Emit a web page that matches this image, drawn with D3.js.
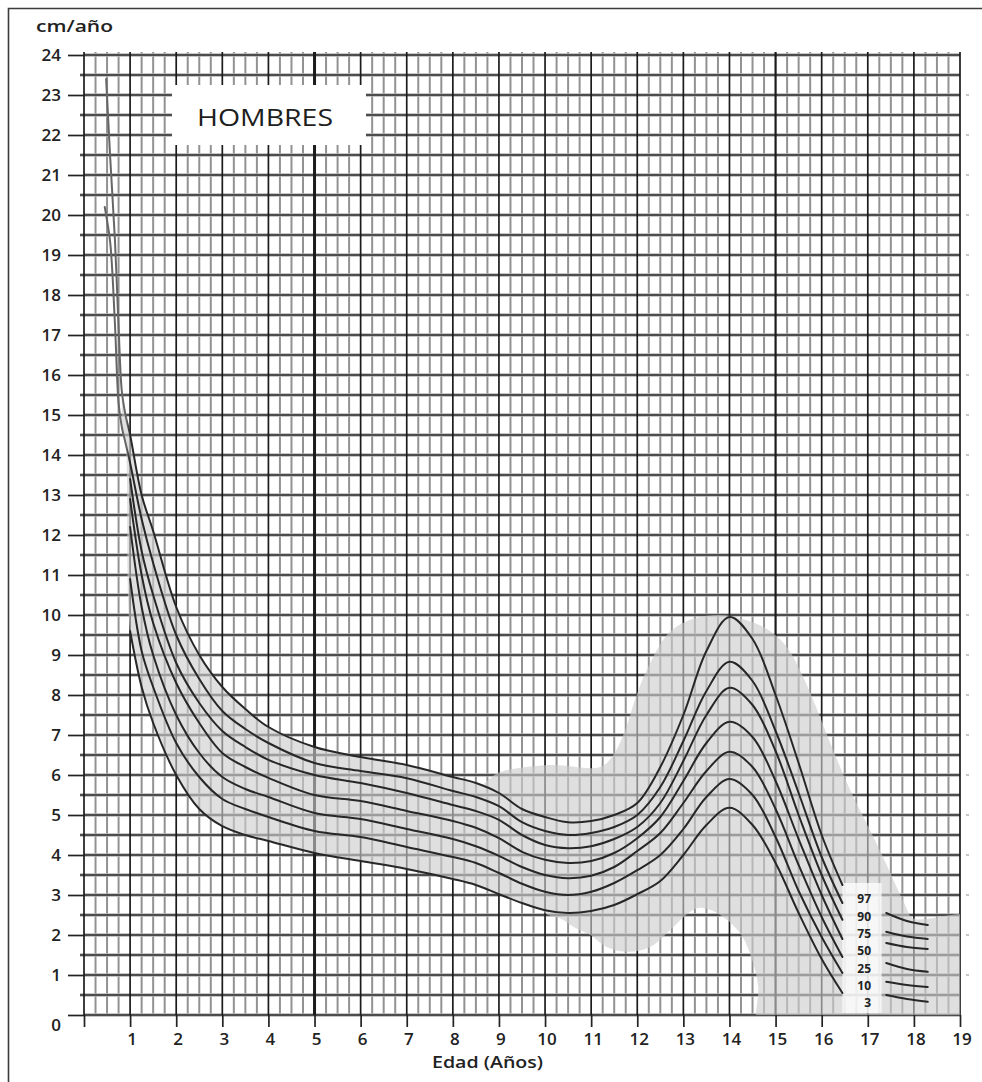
<!DOCTYPE html>
<html>
<head>
<meta charset="utf-8">
<script src="https://cdn.jsdelivr.net/npm/d3@7"></script>
<style>
html, body { margin: 0; padding: 0; background: #fff; }
svg { display: block; font-family: "Open Sans", "Noto Sans", sans-serif; }
</style>
</head>
<body>
<div id="chart"></div>
<script>
// ---- data ----
const percentiles = ["97", "90", "75", "50", "25", "10", "3"];

const ages = [1, 1.25, 1.5, 2, 2.5, 3, 3.5, 4, 5, 6, 7, 8, 8.5, 9, 9.5, 10, 10.5, 11, 11.5, 12, 12.5, 13, 13.5, 14, 14.5, 15, 15.5, 16, 16.45];
const p97 = [14.5, 13.0, 12.1, 10.2, 9.0, 8.2, 7.65, 7.2, 6.7, 6.45, 6.25, 5.95, 5.8, 5.55, 5.15, 4.95, 4.82, 4.85, 5.0, 5.3, 6.2, 7.5, 9.1, 9.95, 9.4, 8.0, 6.3, 4.5, 3.25];
const p90 = [13.8, 12.4, 11.3, 9.5, 8.4, 7.6, 7.15, 6.8, 6.3, 6.1, 5.92, 5.6, 5.45, 5.22, 4.82, 4.6, 4.5, 4.55, 4.7, 5.0, 5.7, 6.85, 8.1, 8.83, 8.35, 7.1, 5.55, 3.95, 2.8];
const p75 = [13.4, 11.6, 10.5, 8.8, 7.8, 7.1, 6.7, 6.38, 6.0, 5.8, 5.55, 5.25, 5.1, 4.88, 4.5, 4.25, 4.17, 4.22, 4.4, 4.7, 5.3, 6.35, 7.5, 8.18, 7.75, 6.6, 5.0, 3.5, 2.38];
const p50 = [12.9, 11.0, 9.8, 8.3, 7.3, 6.55, 6.2, 5.93, 5.5, 5.35, 5.1, 4.85, 4.68, 4.42, 4.08, 3.88, 3.8, 3.85, 4.05, 4.42, 4.95, 5.85, 6.8, 7.33, 6.95, 5.85, 4.4, 3.0, 1.9];
const p25 = [12.2, 10.2, 9.0, 7.5, 6.55, 5.95, 5.65, 5.45, 5.05, 4.9, 4.65, 4.4, 4.22, 3.98, 3.7, 3.5, 3.42, 3.48, 3.7, 4.1, 4.55, 5.3, 6.1, 6.58, 6.2, 5.15, 3.75, 2.45, 1.45];
const p10 = [10.9, 9.1, 8.2, 6.8, 5.95, 5.4, 5.15, 4.95, 4.6, 4.45, 4.2, 3.95, 3.8, 3.55, 3.28, 3.08, 3.0, 3.08, 3.3, 3.62, 4.0, 4.65, 5.45, 5.9, 5.5, 4.45, 3.1, 1.95, 1.05];
const p3 = [9.6, 8.2, 7.3, 6.0, 5.15, 4.72, 4.5, 4.35, 4.05, 3.85, 3.65, 3.4, 3.25, 3.02, 2.8, 2.62, 2.55, 2.6, 2.75, 3.02, 3.35, 4.0, 4.75, 5.18, 4.75, 3.8, 2.55, 1.4, 0.55];

// first months, only the two upper curves are drawn
const infantAges = [0.45, 0.48, 0.57, 0.67, 0.75, 0.82, 0.9];
const p97Infant = [null, 23.4, 21.4, 19.4, 17.2, 15.6, 15.0];
const p90Infant = [20.2, 20.0, 19.3, 17.3, 15.3, 14.7, 14.3];

// short pieces after the percentile labels
const rightAges = [17.4, 17.85, 18.3];
const r97 = [2.55, 2.35, 2.25];
const r90 = [2.08, 1.96, 1.9];
const r75 = [1.8, 1.7, 1.65];
const r50 = [1.3, 1.15, 1.08];
const r25 = [0.83, 0.75, 0.7];
const r10 = [0.5, 0.4, 0.33];

// outline of the grey puberty zone (age, cm/año)
const humpAges = [8.6, 8.85, 9.05, 10.1, 11.2, 11.45, 11.74, 11.95, 12.23, 12.71, 13.25, 13.8, 14.23, 14.77, 15.21, 15.53, 15.86, 16.25, 16.62, 17.05, 17.33, 17.81, 17.98, 19.4, 19.4, 14.7, 14.62, 14.49, 14.23, 13.73, 13.36, 13.15, 12.78, 12.28, 11.78, 11.34, 10.98, 10.65, 10.33, 10.0, 9.3];
const humpVals = [5.6, 5.95, 6.08, 6.25, 6.2, 6.45, 7.12, 7.88, 8.68, 9.58, 9.92, 10.0, 9.92, 9.68, 9.25, 8.62, 7.75, 6.62, 5.62, 4.62, 3.95, 2.75, 2.42, 2.42, -0.5, -0.5, 0.75, 1.38, 2.05, 2.55, 2.68, 2.58, 2.2, 1.7, 1.58, 1.7, 2.0, 2.18, 2.42, 2.55, 4.0];

const yTicks = d3.range(0, 25);
const xTicks = d3.range(0, 20);

// ---- layout ----
const W = 982, H = 1082;
const x = d3.scaleLinear().domain([0, 19]).range([84, 960]);
const y = d3.scaleLinear().domain([0, 24]).range([1015, 55]);

const svg = d3.select("#chart").append("svg")
    .attr("width", W)
    .attr("height", H);

const defs = svg.append("defs");
defs.append("clipPath").attr("id", "plotClip")
    .append("rect")
    .attr("x", x(0)).attr("y", y(24))
    .attr("width", x(19) - x(0)).attr("height", y(0) - y(24));

// curves are a bit lighter during the first year
const ink = defs.append("linearGradient")
    .attr("id", "ink")
    .attr("gradientUnits", "userSpaceOnUse")
    .attr("x1", x(0)).attr("x2", x(19)).attr("y1", 0).attr("y2", 0);
const cut = (x(1) - x(0)) / (x(19) - x(0));
ink.append("stop").attr("offset", 0).attr("stop-color", "#666");
ink.append("stop").attr("offset", cut - 0.004).attr("stop-color", "#666");
ink.append("stop").attr("offset", cut).attr("stop-color", "#272727");
ink.append("stop").attr("offset", 1).attr("stop-color", "#272727");

// outer frame of the scanned page
svg.append("path")
    .attr("d", `M8.5,${H} V8.5 H${W}`)
    .attr("fill", "none")
    .attr("stroke", "#3c3c3c")
    .attr("stroke-width", 1.6);

// ---- millimetre-style grid ----
const grid = svg.append("g");
const quarters = d3.range(0, 19.001, 0.25).filter(v => v % 1 !== 0);
grid.selectAll("line.q").data(quarters).enter().append("line")
    .attr("x1", d => x(d)).attr("x2", d => x(d))
    .attr("y1", y(24) - 3).attr("y2", y(0))
    .attr("stroke", "#929292")
    .attr("stroke-width", 2);

const halves = d3.range(0, 24.001, 0.5);
grid.selectAll("line.hh").data(halves).enter().append("line")
    .attr("x1", d => d % 1 === 0 ? x(0) : x(0) - 4).attr("x2", x(19))
    .attr("y1", d => y(d)).attr("y2", d => y(d))
    .attr("stroke", "#b4b4b4")
    .attr("stroke-width", 3.4);
grid.selectAll("line.h").data(halves).enter().append("line")
    .attr("x1", d => d % 1 === 0 ? x(0) : x(0) - 4).attr("x2", x(19))
    .attr("y1", d => y(d)).attr("y2", d => y(d))
    .attr("stroke", "#2b2b2b")
    .attr("stroke-width", 1.4);

grid.selectAll("line.v").data(xTicks).enter().append("line")
    .attr("x1", d => x(d)).attr("x2", d => x(d))
    .attr("y1", y(24) - 3).attr("y2", y(0))
    .attr("stroke", "#1c1c1c")
    .attr("stroke-width", d => d === 5 ? 3 : (d === 15 ? 2.2 : 1.7));

// faint marks outside the right edge
grid.selectAll("line.r").data(d3.range(1, 24)).enter().append("line")
    .attr("x1", x(19) + 6).attr("x2", x(19) + 9)
    .attr("y1", d => y(d)).attr("y2", d => y(d))
    .attr("stroke", "#a0a0a0")
    .attr("stroke-width", 1.2);

// ---- axes ----
const yAxis = svg.append("g")
    .attr("transform", `translate(${x(0)},0)`)
    .call(d3.axisLeft(y).tickValues(yTicks).tickSize(16).tickPadding(7).tickFormat(d3.format("d")))
    .call(g => g.select(".domain").remove());
yAxis.selectAll(".tick line").attr("stroke", "#222").attr("stroke-width", 1.7);
yAxis.selectAll(".tick text")
    .attr("font-family", "'Open Sans', sans-serif")
    .attr("font-size", 17).attr("font-weight", 600).attr("fill", "#222")
    .attr("y", d => d === 0 ? 10 : 0);

const xAxis = svg.append("g")
    .attr("transform", `translate(0,${y(0)})`)
    .call(d3.axisBottom(x).tickValues(xTicks).tickSize(12).tickPadding(6).tickFormat(d => d === 0 ? "" : d))
    .call(g => g.select(".domain").remove());
xAxis.selectAll(".tick line").attr("stroke", "#222").attr("stroke-width", 1.7);
xAxis.selectAll(".tick text")
    .attr("font-family", "'Open Sans', sans-serif")
    .attr("font-size", 17).attr("font-weight", 600).attr("fill", "#222")
    .attr("x", 1.5);

svg.append("text")
    .attr("x", 36).attr("y", 32)
    .attr("font-size", 17).attr("font-weight", 600).attr("fill", "#222")
    .attr("textLength", 77).attr("lengthAdjust", "spacingAndGlyphs")
    .text("cm/año");

svg.append("text")
    .attr("x", 432).attr("y", 1068)
    .attr("font-size", 16).attr("font-weight", 600).attr("fill", "#222")
    .attr("textLength", 111).attr("lengthAdjust", "spacingAndGlyphs")
    .text("Edad (Años)");

// ---- grey zones (one group so overlaps do not darken) ----
const mainSeries = [p97, p90, p75, p50, p25, p10, p3];
const infantSeries = [p97Infant, p90Infant, null, null, null, null, null];
const rightSeries = [r97, r90, r75, r50, r25, r10, null];

const series = percentiles.map((p, i) => {
    const left = [];
    if (infantSeries[i]) {
        infantAges.forEach((a, j) => {
            if (infantSeries[i][j] != null) left.push([a, infantSeries[i][j]]);
        });
    }
    ages.forEach((a, j) => left.push([a, mainSeries[i][j]]));
    const right = rightSeries[i] ? rightAges.map((a, j) => [a, rightSeries[i][j]]) : null;
    return { p, left, right };
});

const curveType = d3.curveCatmullRom.alpha(0.5);

const bandPts = [];
infantAges.forEach((a, j) => {
    if (p97Infant[j] != null && a >= 0.82) bandPts.push({ a, hi: p97Infant[j], lo: p90Infant[j] });
});
ages.forEach((a, j) => bandPts.push({ a, hi: p97[j], lo: p3[j] }));

const shade = svg.append("g")
    .attr("clip-path", "url(#plotClip)")
    .attr("opacity", 0.62);

shade.append("path")
    .datum(bandPts)
    .attr("fill", "#cdcdcd")
    .attr("d", d3.area()
        .x(d => x(d.a)).y0(d => y(d.lo)).y1(d => y(d.hi))
        .curve(curveType));

shade.append("path")
    .datum(humpAges.map((a, i) => [a, humpVals[i]]))
    .attr("fill", "#cdcdcd")
    .attr("d", d3.line()
        .x(d => x(d[0])).y(d => y(d[1]))
        .curve(d3.curveCatmullRomClosed.alpha(0.5)));

// pale box behind the percentile labels
svg.append("rect")
    .attr("x", x(16.45)).attr("y", y(3.3))
    .attr("width", x(17.3) - x(16.45)).attr("height", y(0.05) - y(3.3))
    .attr("fill", "#fff").attr("opacity", 0.75);

// title box
svg.append("rect")
    .attr("x", 172).attr("y", 85)
    .attr("width", 194).attr("height", 60)
    .attr("fill", "#fff");
svg.append("text")
    .attr("x", 197).attr("y", 126)
    .attr("font-size", 23).attr("font-weight", 500)
    .attr("textLength", 136).attr("lengthAdjust", "spacingAndGlyphs")
    .attr("fill", "#1e1e1e")
    .text("HOMBRES");

// ---- percentile curves ----
const line = d3.line()
    .x(d => x(d[0])).y(d => y(d[1]))
    .curve(curveType);

const curves = svg.append("g")
    .attr("fill", "none")
    .attr("stroke", "url(#ink)")
    .attr("stroke-width", 2)
    .attr("stroke-linejoin", "round")
    .attr("stroke-linecap", "round");

curves.selectAll("path.left").data(series).enter().append("path")
    .attr("class", "left")
    .attr("d", d => line(d.left));

curves.selectAll("path.right").data(series.filter(s => s.right)).enter().append("path")
    .attr("class", "right")
    .attr("d", d => line(d.right));

// labels sit in the gap, spread evenly between the first and last
const first = series[0], last = series[series.length - 1];
const yTop = y((first.left[first.left.length - 1][1] + first.right[0][1]) / 2);
const yBottom = y(last.left[last.left.length - 1][1] - 0.25);
const labelY = d3.scaleLinear().domain([0, series.length - 1]).range([yTop, yBottom]);

svg.append("g").selectAll("text").data(series).enter().append("text")
    .attr("x", x(17.07))
    .attr("y", (d, i) => labelY(i))
    .attr("dy", "0.35em")
    .attr("text-anchor", "end")
    .attr("font-size", 12).attr("font-weight", 700).attr("fill", "#222")
    .text(d => d.p);
</script>
</body>
</html>
